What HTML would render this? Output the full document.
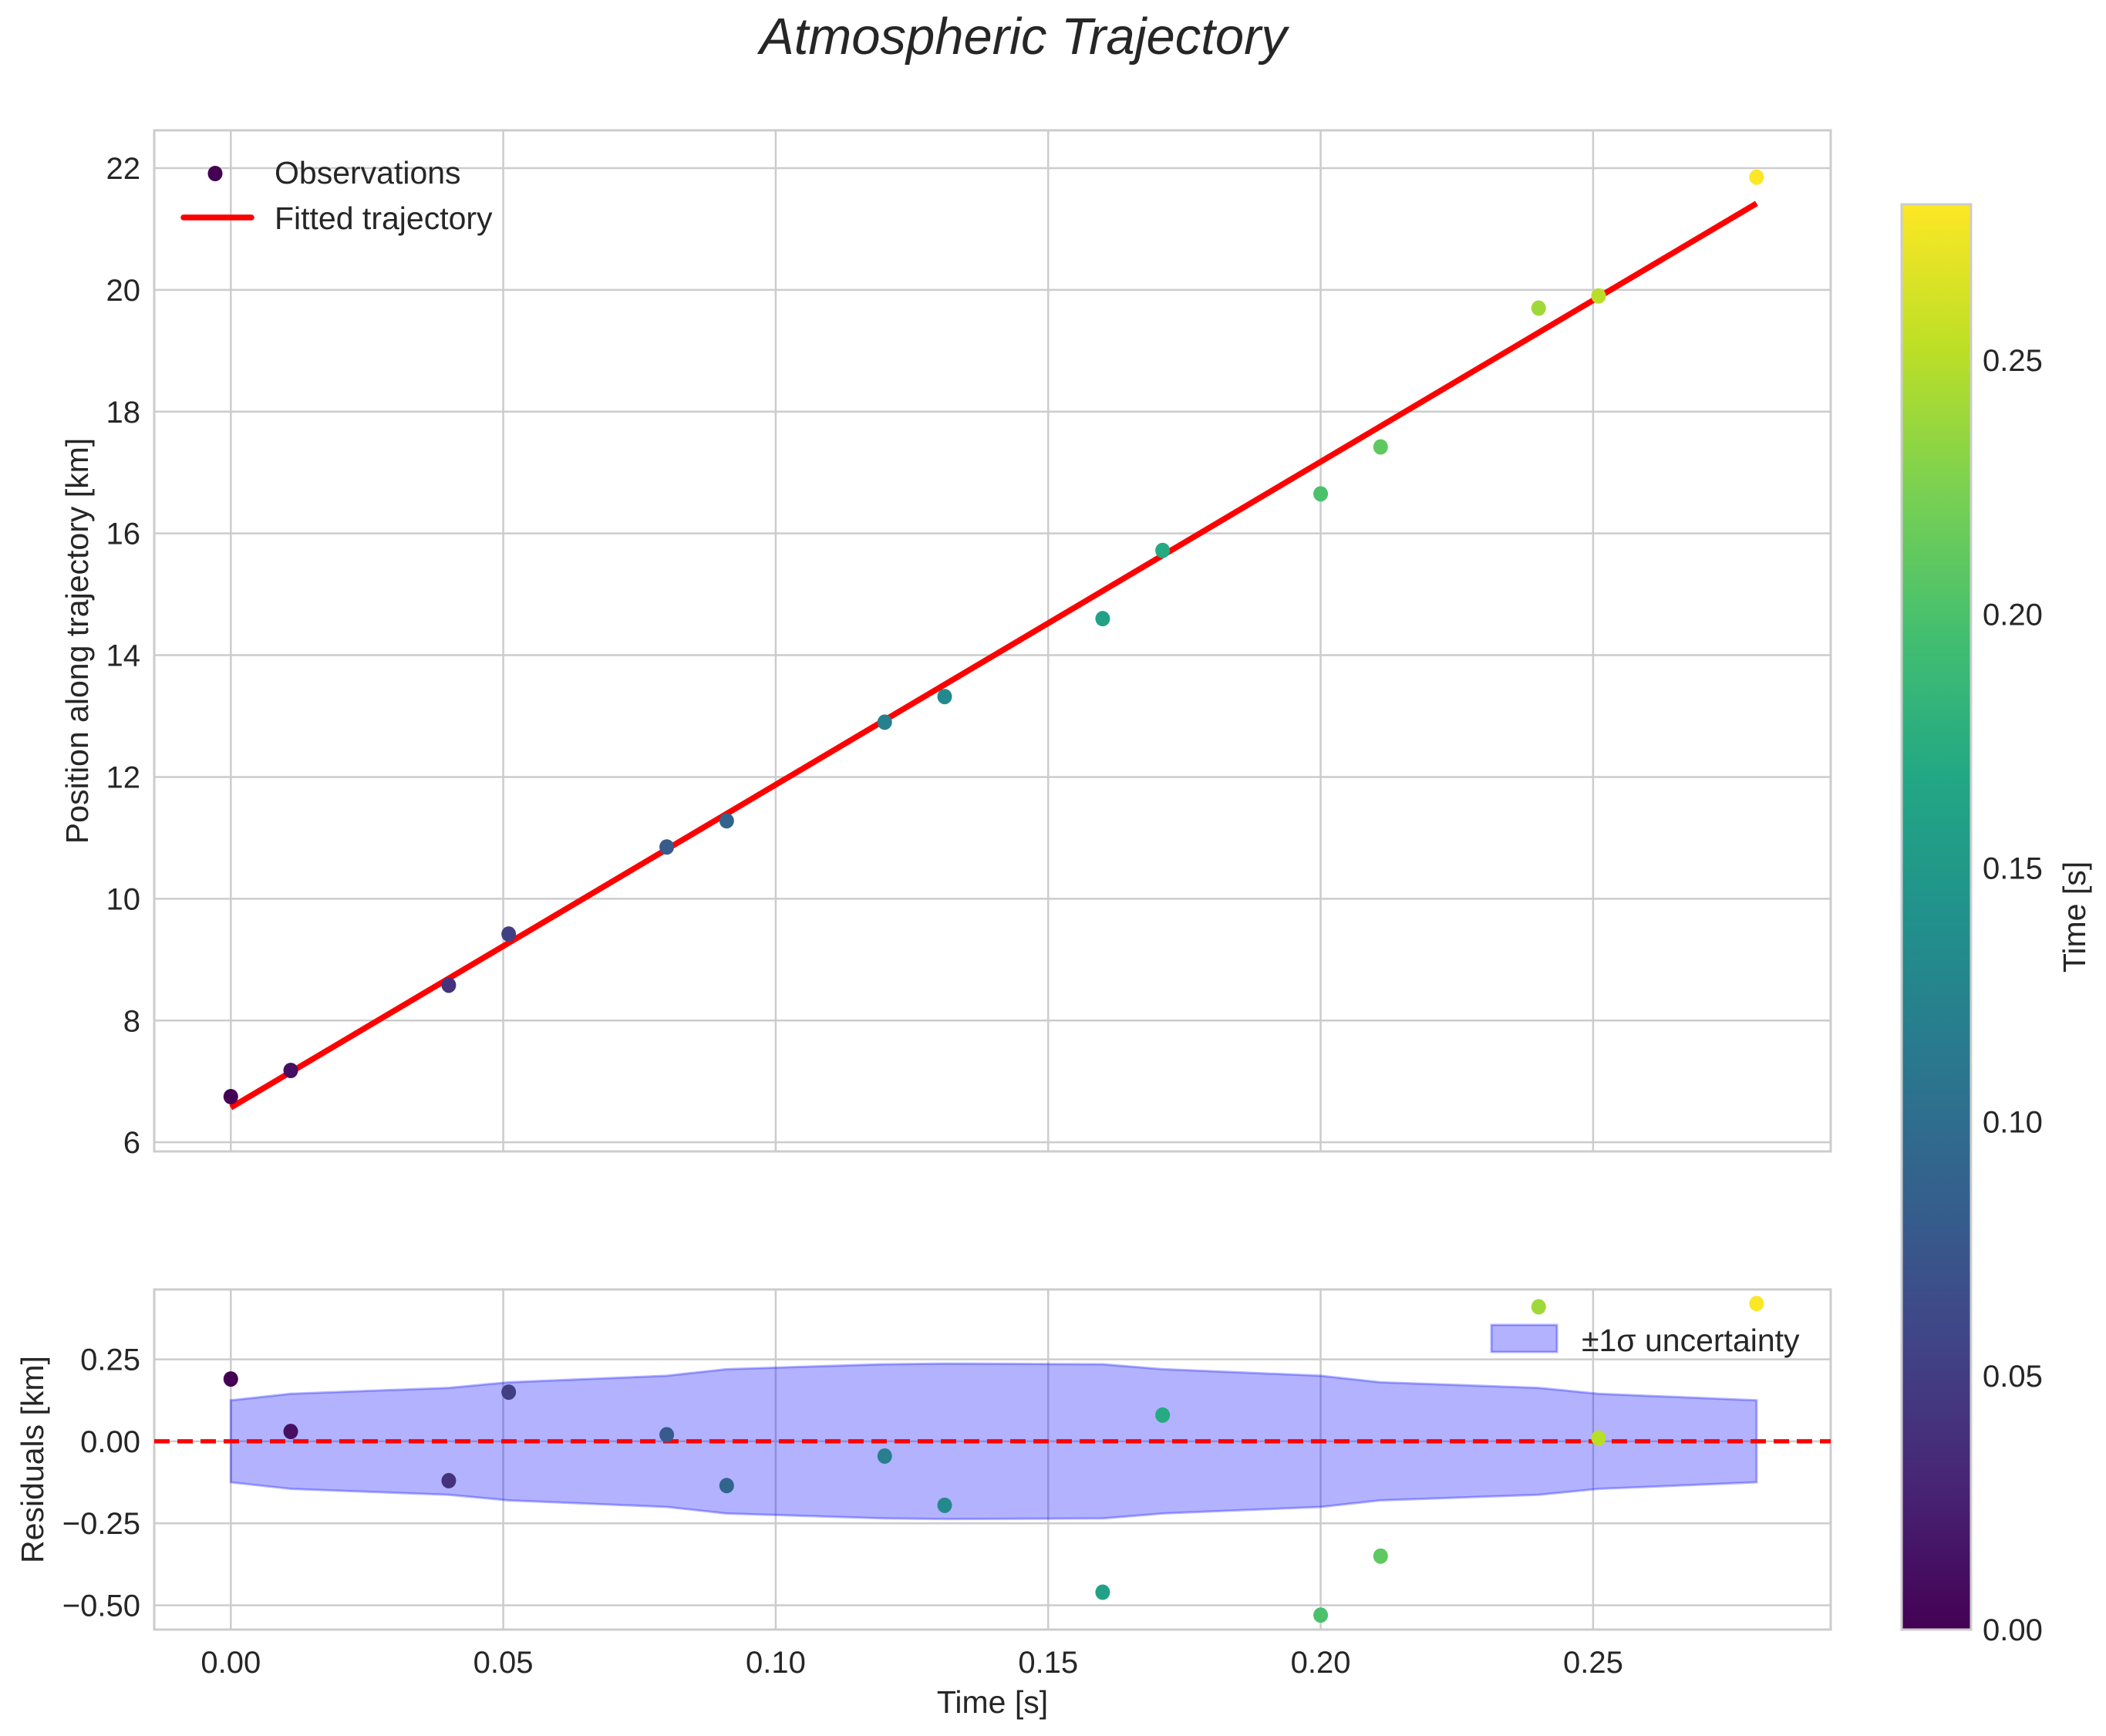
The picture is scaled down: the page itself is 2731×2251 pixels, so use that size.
<!DOCTYPE html>
<html><head><meta charset="utf-8"><style>
body{margin:0;background:#fff}
svg text{font-family:"Liberation Sans",sans-serif;fill:#262626}
</style></head><body>
<svg id="c" width="2731" height="2246" xmlns="http://www.w3.org/2000/svg"></svg>
<script>
const times=[0,0.011,0.04,0.051,0.08,0.091,0.12,0.131,0.16,0.171,0.2,0.211,0.24,0.251,0.28];
const positions=[6.75,7.18,8.58,9.42,10.85,11.28,12.9,13.32,14.6,15.72,16.65,17.42,19.7,19.9,21.85];
const fitStart=6.57, fitEnd=21.42;
const residuals=[0.19,0.03,-0.12,0.15,0.02,-0.135,-0.045,-0.195,-0.46,0.08,-0.53,-0.35,0.41,0.01,0.42];
const sigma=[0.125,0.145,0.163,0.18,0.2,0.22,0.235,0.237,0.235,0.22,0.2,0.18,0.163,0.145,0.125];
const xTicks=[0,0.05,0.1,0.15,0.2,0.25];
const xTickLabels=["0.00","0.05","0.10","0.15","0.20","0.25"];
const yTicksTop=[6,8,10,12,14,16,18,20,22];
const yTicksRes=[-0.5,-0.25,0,0.25];
const yTickResLabels=["\u22120.50","\u22120.25","0.00","0.25"];
const cbTicks=[0,0.05,0.1,0.15,0.2,0.25];
const cbLabels=["0.00","0.05","0.10","0.15","0.20","0.25"];

const NS="http://www.w3.org/2000/svg";
const svg=document.getElementById('c');
function el(tag,attrs,parent,txt){const e=document.createElementNS(NS,tag);for(const k in attrs)e.setAttribute(k,attrs[k]);if(txt!==undefined)e.textContent=txt;(parent||svg).appendChild(e);return e;}
const vir=[[68,1,84],[72,36,117],[65,68,135],[53,95,141],[42,120,142],[33,145,140],[34,168,132],[68,191,112],[122,209,81],[189,223,38],[253,231,37]];
function viridis(v){v=Math.max(0,Math.min(1,v));const p=v*10,i=Math.min(9,Math.floor(p)),f=p-i;const a=vir[i],b=vir[i+1];return `rgb(${a.map((c,j)=>Math.round(c+(b[j]-c)*f)).join(',')})`;}
const VMAX=0.2807;
const XL=200,XR=2374;
const xMin=-0.01405,xMax=0.2936;
const X=t=>XL+(t-xMin)/(xMax-xMin)*(XR-XL);
const T1=169,B1=1493,y1Min=5.85,y1Max=22.62;
const Y1=v=>B1-(v-y1Min)/(y1Max-y1Min)*(B1-T1);
const T2=1672,B2=2113,y2Min=-0.574,y2Max=0.463;
const Y2=v=>B2-(v-y2Min)/(y2Max-y2Min)*(B2-T2);
const grid='#cccccc';
const TF=40, LF=41;

// title
let t=el('text',{x:1327,y:70,'font-size':67,'font-style':'italic','text-anchor':'middle'},svg,'Atmospheric Trajectory');


// ---- top panel
const g1=el('g',{});
xTicks.forEach(v=>el('line',{x1:X(v),x2:X(v),y1:T1,y2:B1,stroke:grid,'stroke-width':2.5},g1));
yTicksTop.forEach(v=>{el('line',{x1:XL,x2:XR,y1:Y1(v),y2:Y1(v),stroke:grid,'stroke-width':2.5},g1);
 const l=el('text',{x:XL-18,y:Y1(v)+14,'font-size':TF,'text-anchor':'end'},g1,String(v));});
el('rect',{x:XL,y:T1,width:XR-XL,height:B1-T1,fill:'none',stroke:grid,'stroke-width':3},g1);
const fit=el('line',{x1:X(times[0]),y1:Y1(fitStart),x2:X(times[times.length-1]),y2:Y1(fitEnd),stroke:'#ff0000','stroke-width':7.5},g1);

times.forEach((tt,i)=>{const c=el('ellipse',{cx:X(tt),cy:Y1(positions[i]),rx:9.5,ry:10,fill:viridis(tt/VMAX)},g1);
 });
let yl=el('text',{x:0,y:0,'font-size':LF,'text-anchor':'middle',transform:`translate(114,${(T1+B1)/2}) rotate(-90)`},g1,'Position along trajectory [km]');

// legend
const lg=el('g',{});
el('ellipse',{cx:279,cy:225,rx:9.5,ry:10,fill:viridis(0)},lg);
el('text',{x:356,y:238,'font-size':LF},lg,'Observations');
el('line',{x1:238,x2:326,y1:282,y2:282,stroke:'#ff0000','stroke-width':7.5,'stroke-linecap':'round'},lg);
el('text',{x:356,y:297,'font-size':LF},lg,'Fitted trajectory');

// ---- residual panel
const g2=el('g',{});
xTicks.forEach((v,i)=>{el('line',{x1:X(v),x2:X(v),y1:T2,y2:B2,stroke:grid,'stroke-width':2.5},g2);
 const l=el('text',{x:X(v),y:B2+56,'font-size':TF,'text-anchor':'middle'},g2,xTickLabels[i]);});
yTicksRes.forEach((v,i)=>{el('line',{x1:XL,x2:XR,y1:Y2(v),y2:Y2(v),stroke:grid,'stroke-width':2.5},g2);
 const l=el('text',{x:XL-18,y:Y2(v)+14,'font-size':TF,'text-anchor':'end'},g2,yTickResLabels[i]);});
el('rect',{x:XL,y:T2,width:XR-XL,height:B2-T2,fill:'none',stroke:grid,'stroke-width':3},g2);
let pts=times.map((tt,i)=>`${X(tt)},${Y2(sigma[i])}`);
for(let i=times.length-1;i>=0;i--)pts.push(`${X(times[i])},${Y2(-sigma[i])}`);
const band=el('polygon',{points:pts.join(' '),fill:'rgba(0,0,255,0.3)',stroke:'rgba(0,0,255,0.3)','stroke-width':3},g2);

const zl=el('line',{x1:XL,x2:XR,y1:Y2(0),y2:Y2(0),stroke:'#ff0000','stroke-width':5.5,'stroke-dasharray':'20 10'},g2);

// residual legend
const lg2=el('g',{});
el('rect',{x:1934,y:1718,width:85,height:35,fill:'rgba(0,0,255,0.3)',stroke:'rgba(0,0,255,0.3)','stroke-width':3},lg2);
el('text',{x:2051,y:1752,'font-size':LF},lg2,'±1σ uncertainty');
times.forEach((tt,i)=>{const c=el('ellipse',{cx:X(tt),cy:Y2(residuals[i]),rx:9.5,ry:10,fill:viridis(tt/VMAX)},g2);
 });
let yl2=el('text',{x:0,y:0,'font-size':LF,'text-anchor':'middle',transform:`translate(56,${(T2+B2)/2}) rotate(-90)`},g2,'Residuals [km]');

let xl=el('text',{x:(XL+XR)/2,y:B2+108,'font-size':LF,'text-anchor':'middle'},g2,'Time [s]');


// ---- colorbar
const CL=2466,CR=2556,CT=265,CB=2113;
const defs=el('defs',{});const gr=el('linearGradient',{id:'vg',x1:0,y1:1,x2:0,y2:0},defs);
vir.forEach((c,i)=>el('stop',{offset:i/10,'stop-color':`rgb(${c.join(',')})`},gr));
const cb=el('g',{});
el('rect',{x:CL,y:CT,width:CR-CL,height:CB-CT,fill:'url(#vg)',stroke:grid,'stroke-width':3},cb);
const CY=v=>CB-v/VMAX*(CB-CT);
cbTicks.forEach((v,i)=>{const l=el('text',{x:CR+15,y:CY(v)+14,'font-size':TF},cb,cbLabels[i]);});
let cl=el('text',{x:0,y:0,'font-size':LF,'text-anchor':'middle',transform:`translate(2704,${(CT+CB)/2}) rotate(-90)`},cb,'Time [s]');

</script>
</body></html>
